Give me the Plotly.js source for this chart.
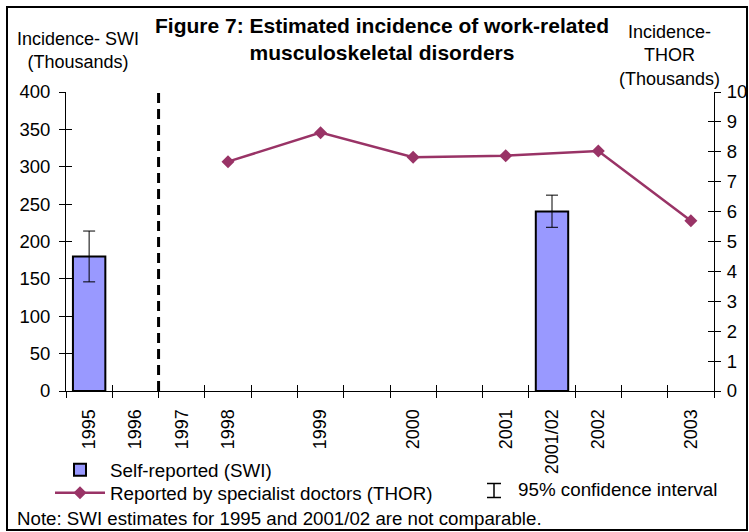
<!DOCTYPE html>
<html>
<head>
<meta charset="utf-8">
<script src="https://cdn.plot.ly/plotly-3.0.1.min.js"></script>
<style>
  html, body { margin: 0; padding: 0; background: #fff; }
  #wrap { position: relative; width: 749px; height: 532px; }
  #chart { position: absolute; left: 0; top: 0; width: 749px; height: 532px; }
  #frame { position: absolute; left: 6px; top: 6px; width: 738px; height: 521px; border: 2px solid #000; pointer-events: none; }
</style>
</head>
<body>
<div id="wrap">
  <div id="chart"></div>
  <div id="frame"></div>
</div>
<script>
// ---- Data ----
const categories = ["1995", "1996", "1997", "1998", "", "1999", "", "2000", "", "2001", "2001/02", "2002", "", "2003"];
const swiYears = ["1995", "2001/02"];
const swiValues = [180, 240];
const swiErrUp = [34, 22];
const swiErrDown = [34, 21];
const thorYears = ["1998", "1999", "2000", "2001", "2002", "2003"];
const thorValues = [7.67, 8.64, 7.82, 7.87, 8.03, 5.69];
const dividerBetween = ["1996", "1997"];

// ---- Helpers ----
const pos = name => categories.indexOf(name);
const labelIdx = categories.map((c, i) => (c ? i : null)).filter(v => v !== null);
const labelText = labelIdx.map(i => categories[i]);
const boundaries = categories.map((c, i) => i - 0.5).concat([categories.length - 0.5]);
const xRange = [-0.5, categories.length - 0.5];
const dividerX = (pos(dividerBetween[0]) + pos(dividerBetween[1])) / 2;

const FONT = "Liberation Sans, Arial, sans-serif";
// plot area: left 66, right 714, top 92, bottom 391 (px)
const px = x => (x - 66) / 648;
const py = y => (391 - y) / 299;

const traces = [
  {
    type: "bar",
    name: "Self-reported (SWI)",
    x: swiYears.map(pos),
    y: swiValues,
    width: 0.7,
    marker: { color: "#9999FF", line: { color: "#000", width: 2 } },
    error_y: { type: "data", symmetric: false, array: swiErrUp, arrayminus: swiErrDown, color: "#000", thickness: 1, width: 6 },
    xaxis: "x", yaxis: "y",
    legend: "legend"
  },
  {
    type: "scatter",
    mode: "lines+markers",
    name: "Reported by specialist doctors (THOR)",
    x: thorYears.map(pos),
    y: thorValues,
    line: { color: "#993366", width: 2.5 },
    marker: { symbol: "diamond", size: 10, color: "#993366" },
    xaxis: "x", yaxis: "y2",
    legend: "legend2"
  },
  // helper traces so overlay tick axes get drawn
  { type: "scatter", mode: "markers", x: [0], y: [0], xaxis: "x2", yaxis: "y", marker: { opacity: 0 }, showlegend: false, hoverinfo: "skip" },
  { type: "scatter", mode: "markers", x: [0], y: [0], xaxis: "x3", yaxis: "y", marker: { opacity: 0 }, showlegend: false, hoverinfo: "skip" },
  { type: "scatter", mode: "markers", x: [0], y: [0], xaxis: "x", yaxis: "y3", marker: { opacity: 0 }, showlegend: false, hoverinfo: "skip" },
  { type: "scatter", mode: "markers", x: [0], y: [0], xaxis: "x", yaxis: "y4", marker: { opacity: 0 }, showlegend: false, hoverinfo: "skip" }
];

const baseAxis = { showgrid: false, zeroline: false, fixedrange: true };
const legendBase = {
  x: px(50), xanchor: "left", yanchor: "top",
  bgcolor: "rgba(0,0,0,0)", borderwidth: 0, itemwidth: 50,
  font: { family: FONT, size: 18.8, color: "#000" }
};

const layout = {
  width: 749,
  height: 532,
  margin: { l: 66, r: 35, t: 92, b: 141, pad: 0 },
  paper_bgcolor: "#fff",
  plot_bgcolor: "rgba(0,0,0,0)",
  font: { family: FONT, size: 18, color: "#000" },
  showlegend: true,
  title: {
    text: "<b>Figure 7: Estimated incidence of work-related<br>musculoskeletal disorders</b>",
    font: { family: FONT, size: 21, color: "#000" },
    x: 382 / 749, xanchor: "center",
    y: 1 - 33 / 532, yanchor: "middle"
  },
  xaxis: Object.assign({}, baseAxis, {
    range: xRange,
    tickmode: "array",
    tickvals: labelIdx,
    ticktext: labelText,
    tickangle: -90,
    ticks: "outside", ticklen: 6, tickcolor: "rgba(0,0,0,0)",
    ticklabelstandoff: 4,
    showline: true, linecolor: "#000", linewidth: 1,
    tickfont: { family: FONT, size: 18, color: "#000" }
  }),
  xaxis2: Object.assign({}, baseAxis, {
    overlaying: "x", anchor: "y", range: xRange,
    tickmode: "array", tickvals: boundaries,
    ticks: "outside", ticklen: 6, tickwidth: 1, tickcolor: "#000",
    showticklabels: false, showline: false
  }),
  xaxis3: Object.assign({}, baseAxis, {
    overlaying: "x", anchor: "y", range: xRange,
    tickmode: "array", tickvals: boundaries,
    ticks: "inside", ticklen: 6, tickwidth: 1, tickcolor: "#000",
    showticklabels: false, showline: false
  }),
  yaxis: Object.assign({}, baseAxis, {
    range: [0, 400], dtick: 50, tick0: 0,
    ticks: "outside", ticklen: 6, tickwidth: 1, tickcolor: "#000",
    ticklabelstandoff: 5,
    showline: true, linecolor: "#000", linewidth: 1,
    tickfont: { family: FONT, size: 18.5, color: "#000" }
  }),
  yaxis3: Object.assign({}, baseAxis, {
    overlaying: "y", anchor: "x", side: "left", range: [0, 400], dtick: 50, tick0: 0,
    ticks: "inside", ticklen: 6, tickwidth: 1, tickcolor: "#000",
    showticklabels: false, showline: false
  }),
  yaxis2: Object.assign({}, baseAxis, {
    overlaying: "y", anchor: "x", side: "right", range: [0, 10], dtick: 1, tick0: 0,
    ticks: "outside", ticklen: 6, tickwidth: 1, tickcolor: "#000",
    ticklabelstandoff: 2,
    showline: true, linecolor: "#000", linewidth: 1,
    tickfont: { family: FONT, size: 18.5, color: "#000" }
  }),
  yaxis4: Object.assign({}, baseAxis, {
    overlaying: "y", anchor: "x", side: "right", range: [0, 10], dtick: 1, tick0: 0,
    ticks: "inside", ticklen: 6, tickwidth: 1, tickcolor: "#000",
    showticklabels: false, showline: false
  }),
  legend: Object.assign({}, legendBase, { y: py(451) }),
  legend2: Object.assign({}, legendBase, { y: py(474) }),
  shapes: [
    {
      type: "line", xref: "x", yref: "paper",
      x0: dividerX, x1: dividerX, y0: 0, y1: 1,
      line: { color: "#000", width: 3, dash: "10px,6px" }
    },
    // "95% confidence interval" legend symbol (I-beam)
    { type: "line", xref: "paper", yref: "paper", x0: px(494), x1: px(494), y0: py(483.5), y1: py(497.5), line: { color: "#000", width: 1.5 } },
    { type: "line", xref: "paper", yref: "paper", x0: px(487), x1: px(501), y0: py(483.5), y1: py(483.5), line: { color: "#000", width: 1.5 } },
    { type: "line", xref: "paper", yref: "paper", x0: px(487), x1: px(501), y0: py(497.5), y1: py(497.5), line: { color: "#000", width: 1.5 } }
  ],
  annotations: [
    {
      text: "Incidence- SWI<br>(Thousands)",
      xref: "paper", yref: "paper",
      x: px(77.5), y: py(50),
      xanchor: "center", yanchor: "middle",
      showarrow: false, align: "center",
      font: { family: FONT, size: 18, color: "#000" }
    },
    {
      text: "Incidence-<br>THOR<br>(Thousands)",
      xref: "paper", yref: "paper",
      x: px(669), y: py(55),
      xanchor: "center", yanchor: "middle",
      showarrow: false, align: "center",
      font: { family: FONT, size: 18, color: "#000" }
    },
    {
      text: "95% confidence interval",
      xref: "paper", yref: "paper",
      x: px(516), y: py(489),
      xanchor: "left", yanchor: "middle",
      showarrow: false,
      font: { family: FONT, size: 18.8, color: "#000" }
    },
    {
      text: "Note: SWI estimates for 1995 and 2001/02 are not comparable.",
      xref: "paper", yref: "paper",
      x: px(15), y: py(518),
      xanchor: "left", yanchor: "middle",
      showarrow: false,
      font: { family: FONT, size: 18.7, color: "#000" }
    }
  ]
};

Plotly.newPlot("chart", traces, layout, { displayModeBar: false, staticPlot: true });
</script>
</body>
</html>
